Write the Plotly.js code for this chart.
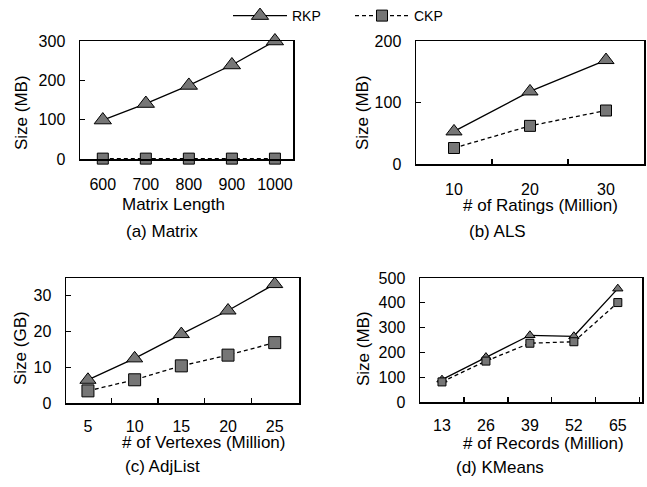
<!DOCTYPE html>
<html>
<head>
<meta charset="utf-8">
<script src="https://cdn.plot.ly/plotly-3.0.1.min.js"></script>
<style>html,body{margin:0;padding:0;background:#fff;}#chart{width:647px;height:487px;}</style>
</head>
<body>
<div id="chart"></div>
<script>
// ---- data ----
const seriesNames = ['RKP', 'CKP'];

const matrixLength = ['600', '700', '800', '900', '1000'];
const matrixRKP = [99, 141, 187, 239, 300];
const matrixCKP = [1, 1, 1, 1, 1];

const alsRatings = ['10', '20', '30'];
const alsRKP = [53, 118, 169];
const alsCKP = [26, 62, 87];

const adjVertexes = ['5', '10', '15', '20', '25'];
const adjRKP = [6.5, 12.5, 19.3, 25.9, 33.3];
const adjCKP = [3.4, 6.5, 10.4, 13.4, 16.9];

const kmRecords = ['13', '26', '39', '52', '65'];
const kmRKP = [90, 181, 269, 265, 457];
const kmCKP = [81, 165, 237, 243, 401];

const panelCaptions = ['(a) Matrix', '(b) ALS', '(c) AdjList', '(d) KMeans'];
const xTitles = ['Matrix Length', '# of Ratings (Million)', '# of Vertexes (Million)', '# of Records (Million)'];
const yTitles = ['Size (MB)', 'Size (MB)', 'Size (GB)', 'Size (MB)'];

// ---- layout helpers ----
const W = 647, H = 487;
const FONT = 'Liberation Sans, Arial, Helvetica, sans-serif';
const GRAY = '#767676';
const px = v => v / W;
const py = v => 1 - v / H;

const panels = [
  {x: matrixLength, r: matrixRKP, c: matrixCKP, box: [80, 293, 41, 159], xr: [-0.53, 4.42], yr: [0, 300], dt: 100, tri: 15, sq: 11, xticks: false, so: 10},
  {x: alsRatings, r: alsRKP, c: alsCKP, box: [416, 644, 41, 164], xr: [-0.5, 2.5], yr: [0, 200], dt: 100, tri: 14, sq: 11, xticks: true, so: 10},
  {x: adjVertexes, r: adjRKP, c: adjCKP, box: [66, 299, 278, 403], xr: [-0.47, 4.52], yr: [0, 35], dt: 10, tri: 14, sq: 12, xticks: true, so: 8},
  {x: kmRecords, r: kmRKP, c: kmCKP, box: [420, 642, 278, 402], xr: [-0.5, 4.55], yr: [0, 500], dt: 100, tri: 9, sq: 8, xticks: true, so: 8}
];

const titlePos = [
  {xt: [173, 204], yt: [21, 113], cap: [162, 231]},
  {xt: [540, 206], yt: [362, 113], cap: [497, 231]},
  {xt: [203, 442], yt: [20, 348], cap: [162, 466]},
  {xt: [543, 443], yt: [363, 349], cap: [500, 467]}
];

const data = [];
const layout = {
  width: W, height: H,
  margin: {l: 0, r: 0, t: 0, b: 0},
  paper_bgcolor: '#fff', plot_bgcolor: '#fff',
  font: {family: FONT, color: '#000', size: 16},
  showlegend: true,
  legend: {
    orientation: 'h', x: px(228), y: py(0), xanchor: 'left', yanchor: 'top',
    font: {size: 14, family: FONT, color: '#000'},
    entrywidth: 53, itemwidth: 54, bgcolor: 'rgba(0,0,0,0)', traceorder: 'normal'
  },
  annotations: []
};

panels.forEach((p, i) => {
  const n = i + 1;
  const xa = 'x' + (n === 1 ? '' : n), ya = 'y' + (n === 1 ? '' : n);
  data.push({
    type: 'scatter', mode: 'lines+markers', name: seriesNames[0], legendgroup: 'rkp',
    showlegend: i === 0, x: p.x, y: p.r, xaxis: xa, yaxis: ya, cliponaxis: false,
    line: {color: '#000', width: 1.3},
    marker: {symbol: 'triangle-up', size: p.tri, color: GRAY, line: {color: '#000', width: 1}}
  });
  data.push({
    type: 'scatter', mode: 'lines+markers', name: seriesNames[1], legendgroup: 'ckp',
    showlegend: i === 0, x: p.x, y: p.c, xaxis: xa, yaxis: ya, cliponaxis: false,
    line: {color: '#000', width: 1.3, dash: '4px,3px'},
    marker: {symbol: 'square', size: p.sq, color: GRAY, line: {color: '#000', width: 1}}
  });
  const [l, r, t, b] = p.box;
  const xkey = 'xaxis' + (n === 1 ? '' : n), ykey = 'yaxis' + (n === 1 ? '' : n);
  layout[xkey] = {
    domain: [px(l), px(r)], anchor: ya, type: 'category', range: p.xr,
    showline: true, mirror: true, linecolor: '#000', linewidth: 1.5,
    showgrid: false, zeroline: false,
    ticks: p.xticks ? 'inside' : '', tickson: 'boundaries', ticklen: 5, tickwidth: 1.2, tickcolor: '#000',
    tickfont: {size: 16, family: FONT, color: '#000'}, ticklabelstandoff: p.so, fixedrange: true
  };
  layout[ykey] = {
    domain: [py(b), py(t)], anchor: xa, range: p.yr, dtick: p.dt, tick0: 0,
    showline: true, mirror: true, linecolor: '#000', linewidth: 1.5,
    showgrid: false, zeroline: false,
    ticks: 'inside', ticklen: 5, tickwidth: 1.2, tickcolor: '#000',
    tickfont: {size: 16, family: FONT, color: '#000'}, ticklabelstandoff: 10, fixedrange: true
  };
  const tp = titlePos[i];
  layout.annotations.push(
    {text: xTitles[i], xref: 'paper', yref: 'paper', x: px(tp.xt[0]), y: py(tp.xt[1]), xanchor: 'center', yanchor: 'middle', showarrow: false, font: {size: 17, family: FONT, color: '#000'}},
    {text: yTitles[i], xref: 'paper', yref: 'paper', x: px(tp.yt[0]), y: py(tp.yt[1]), xanchor: 'center', yanchor: 'middle', textangle: -90, showarrow: false, font: {size: 17, family: FONT, color: '#000'}},
    {text: panelCaptions[i], xref: 'paper', yref: 'paper', x: px(tp.cap[0]), y: py(tp.cap[1]), xanchor: 'center', yanchor: 'middle', showarrow: false, font: {size: 17, family: FONT, color: '#000'}}
  );
});

Plotly.newPlot('chart', data, layout, {displayModeBar: false, staticPlot: true});
</script>
</body>
</html>
